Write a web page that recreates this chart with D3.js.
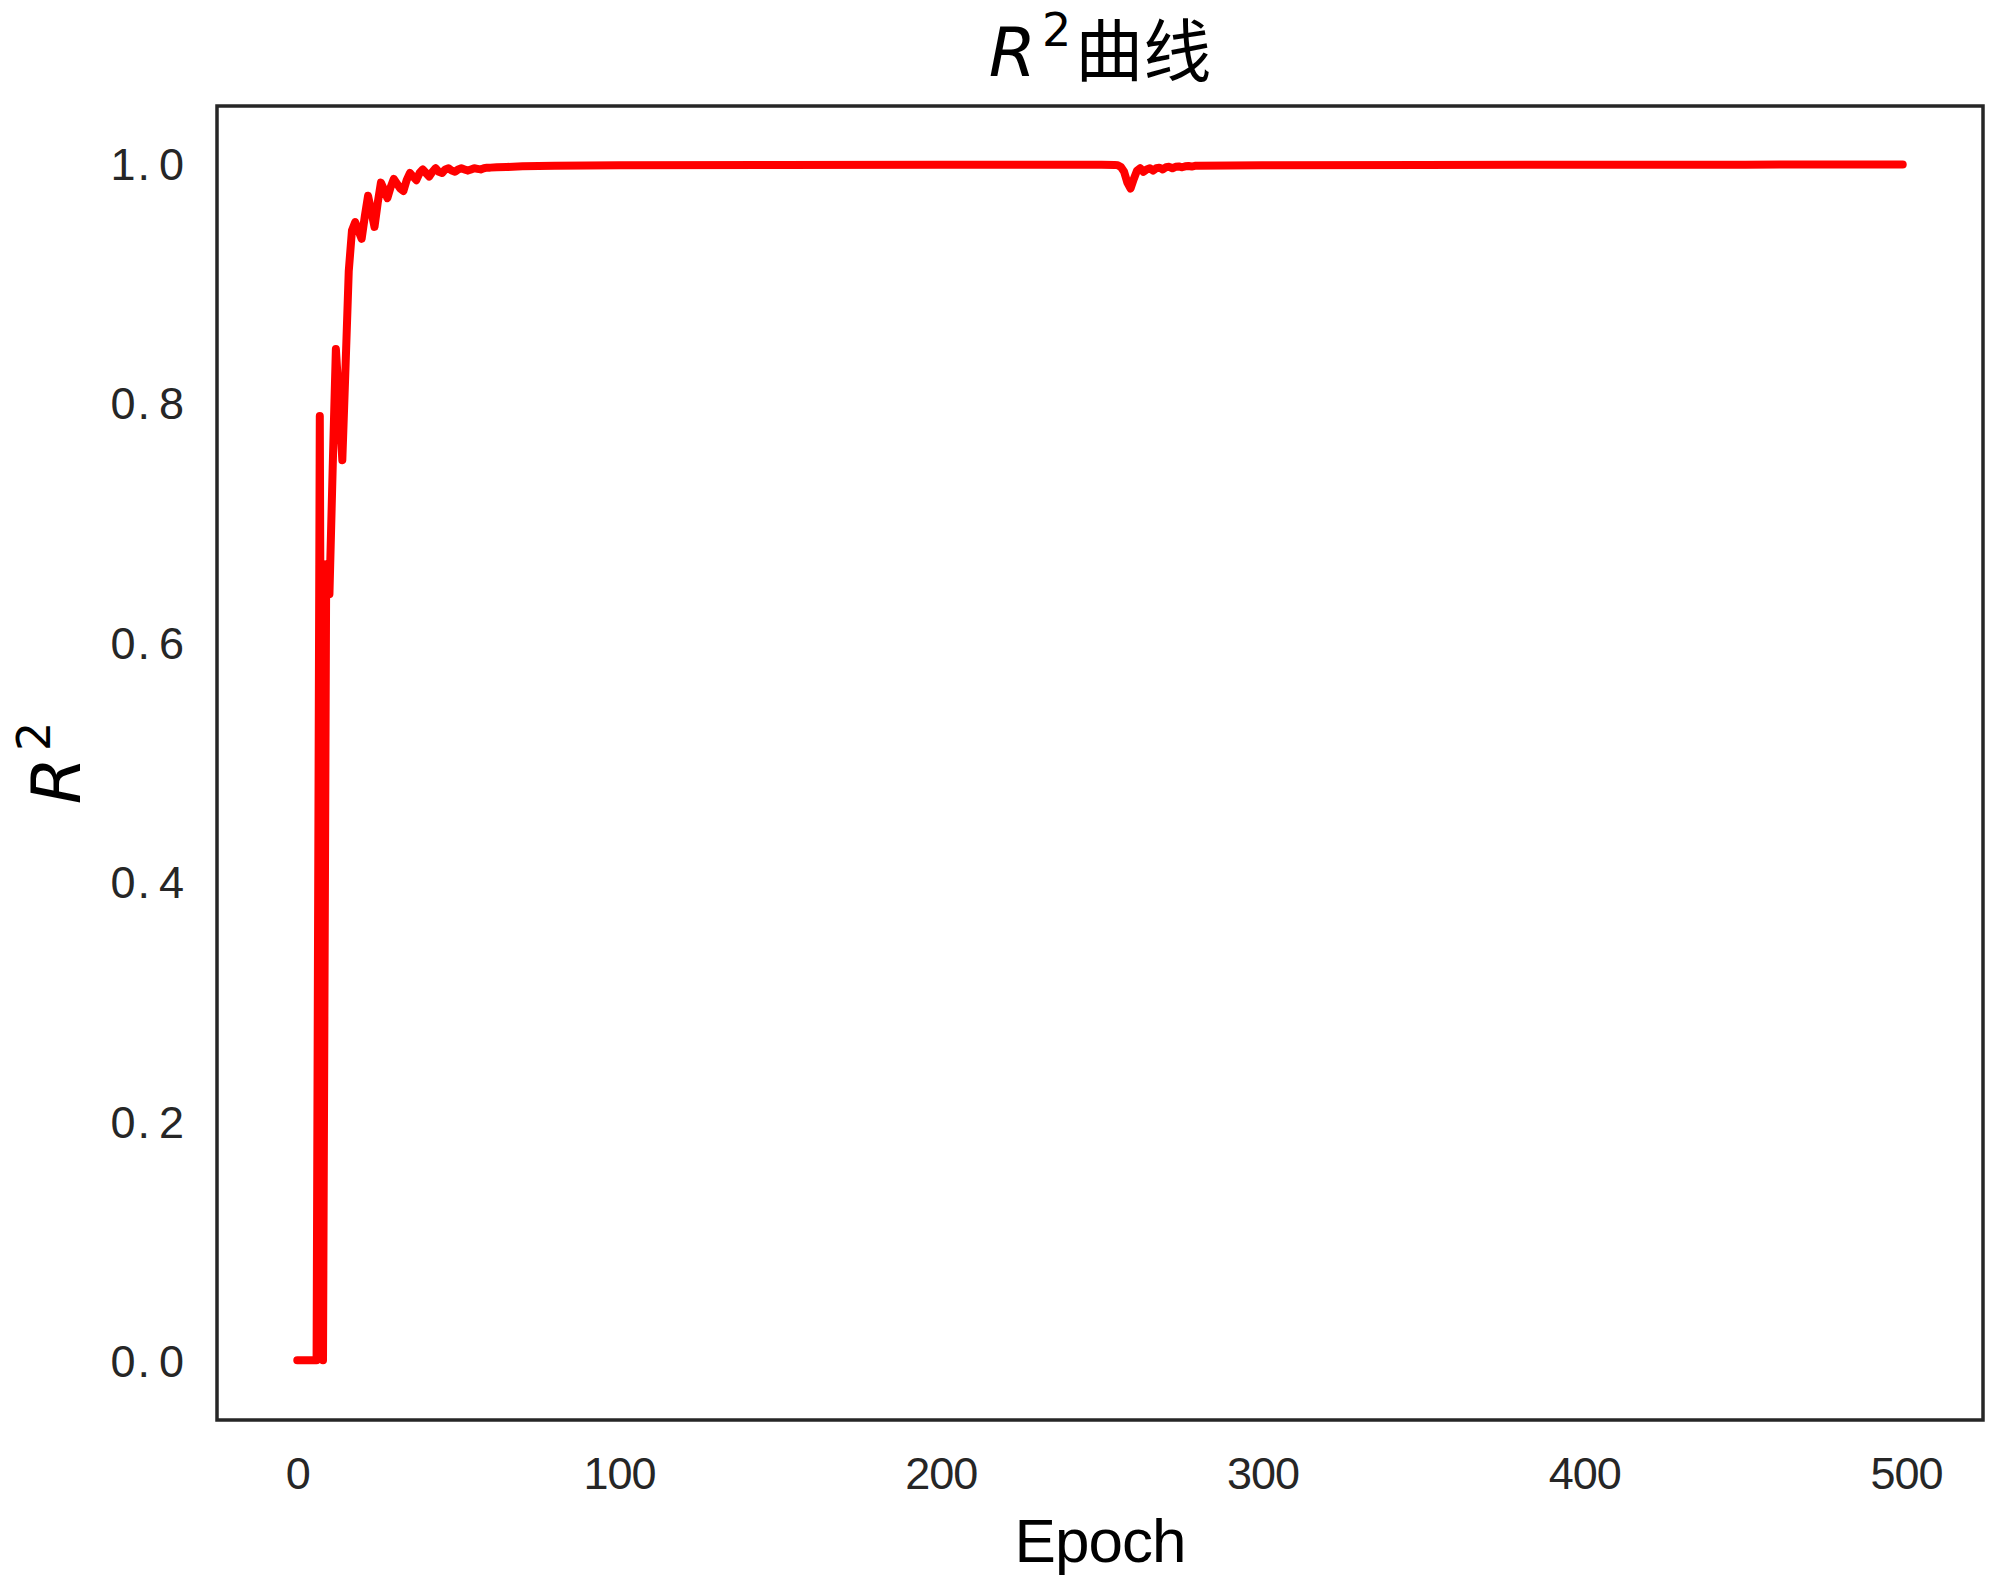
<!DOCTYPE html>
<html>
<head>
<meta charset="utf-8">
<script src="https://cdn.jsdelivr.net/npm/d3@7"></script>
<style>
  html, body { margin: 0; padding: 0; background: #ffffff; }
  svg { display: block; }
</style>
</head>
<body>
<svg id="chart" width="2000" height="1583"></svg>
<script>
// ---- data ----
const epochs = [
  0,1,2,3,4,5,6,7,8,9,10,11,12,13,14,15,16,17,18,19,
  20,21,22,23,24,25,26,27,28,29,30,31,32,33,34,35,36,37,38,39,
  40,41,42,43,44,45,46,47,48,49,50,51,52,53,54,55,56,57,58,59,
  60,62,65,70,80,90,100,150,200,250,254,
  255,256,257,258,259,260,261,262,263,264,265,266,267,268,269,
  270,271,272,273,274,275,276,277,278,279,280,290,300,350,400,450,499
];
const r2 = [
  0,0,0,0,0,0,0,0.789,0,0.665,0.640,0.745,0.845,0.800,0.752,0.830,0.910,0.944,0.951,0.944,
  0.937,0.956,0.973,0.960,0.947,0.967,0.984,0.978,0.971,0.980,0.987,0.983,0.979,0.977,0.986,0.992,0.989,0.986,0.992,0.995,
  0.992,0.989,0.993,0.996,0.993,0.992,0.995,0.996,0.994,0.993,0.995,0.996,0.995,0.994,0.995,0.996,0.9955,0.995,0.996,0.9965,
  0.9965,0.9968,0.997,0.9976,0.998,0.9983,0.9985,0.9988,0.9989,0.9989,0.9988,
  0.9985,0.997,0.993,0.984,0.979,0.987,0.994,0.996,0.993,0.995,0.996,0.994,0.996,0.9965,0.995,
  0.9968,0.9972,0.996,0.9972,0.9975,0.9968,0.9976,0.9978,0.9974,0.998,0.998,0.9983,0.9985,0.9988,0.999,0.999,0.9991
];
const xTicks = [0, 100, 200, 300, 400, 500];
const yTicks = [0.0, 0.2, 0.4, 0.6, 0.8, 1.0];
const titleMain = "R";
const titleSup = "2";
const titleCJK = "曲线";
const xLabel = "Epoch";
const yLabelMain = "R";
const yLabelSup = "2";

// ---- layout ----
const L = 217, R = 1983, T = 106, B = 1420;
const ink = "#262626";
const svg = d3.select("#chart");
svg.append("rect").attr("width", 2000).attr("height", 1583).attr("fill", "#ffffff");

const x = d3.scaleLinear().domain([-24.95, 523.95]).range([L, R]);
const y = d3.scaleLinear().domain([-0.05, 1.048]).range([B, T]);

// line
const pts = epochs.map((e, i) => [e, r2[i]]);
const line = d3.line().x(d => x(d[0])).y(d => y(d[1]));
svg.append("path")
  .datum(pts)
  .attr("d", line)
  .attr("fill", "none")
  .attr("stroke", "#ff0000")
  .attr("stroke-width", 8)
  .attr("stroke-linejoin", "round")
  .attr("stroke-linecap", "round");

// axes
const xAxis = svg.append("g")
  .attr("transform", `translate(0,${B})`)
  .call(d3.axisBottom(x).tickValues(xTicks).tickSize(0).tickPadding(37).tickFormat(d3.format("d")));
xAxis.select(".domain").remove();
xAxis.selectAll("text")
  .attr("font-family", "'Liberation Sans', Arial, sans-serif")
  .attr("font-size", 45)
  .attr("letter-spacing", -1)
  .attr("fill", ink);

const yAxis = svg.append("g")
  .attr("transform", `translate(${L},0)`)
  .call(d3.axisLeft(y).tickValues(yTicks).tickSize(0).tickPadding(33).tickFormat(d3.format(".1f")));
yAxis.select(".domain").remove();
yAxis.selectAll("text")
  .attr("font-family", "'Liberation Sans', Arial, sans-serif")
  .attr("font-size", 45)
  .attr("dy", "0.36em")
  .attr("fill", ink)
  .each(function(d) {
    const s = d3.format(".1f")(d);
    const parts = s.split(".");
    const t = d3.select(this).text(null);
    t.append("tspan").text(parts[0]);
    t.append("tspan").attr("dx", 2).text(".");
    t.append("tspan").attr("dx", 9).text(parts[1]);
  });

// frame
svg.append("rect")
  .attr("x", L).attr("y", T)
  .attr("width", R - L).attr("height", B - T)
  .attr("fill", "none")
  .attr("stroke", ink)
  .attr("stroke-width", 3.5);

// title
const title = svg.append("text")
  .attr("x", (L + R) / 2).attr("y", 76)
  .attr("text-anchor", "middle")
  .attr("fill", "#000000")
  .attr("font-size", 68);
title.append("tspan").attr("font-family", "'DejaVu Sans', sans-serif").attr("font-style", "italic").text(titleMain);
title.append("tspan").attr("font-family", "'DejaVu Sans', sans-serif").attr("font-size", 46).attr("dx", 6).attr("dy", -30).text(titleSup);
title.append("tspan").attr("font-family", "'Noto Sans CJK SC', sans-serif").attr("dx", 4).attr("dy", 30).text(titleCJK);

// x label
svg.append("text")
  .attr("x", (L + R) / 2).attr("y", 1562)
  .attr("text-anchor", "middle")
  .attr("font-family", "'Liberation Sans', Arial, sans-serif")
  .attr("font-size", 62)
  .attr("letter-spacing", -1)
  .attr("fill", "#000000")
  .text(xLabel);

// y label
const yl = svg.append("text")
  .attr("transform", `translate(80,${(T + B) / 2}) rotate(-90)`)
  .attr("text-anchor", "middle")
  .attr("fill", "#000000")
  .attr("font-size", 68);
yl.append("tspan").attr("font-family", "'DejaVu Sans', sans-serif").attr("font-style", "italic").text(yLabelMain);
yl.append("tspan").attr("font-family", "'DejaVu Sans', sans-serif").attr("font-size", 46).attr("dx", 6).attr("dy", -30).text(yLabelSup);
</script>
</body>
</html>
